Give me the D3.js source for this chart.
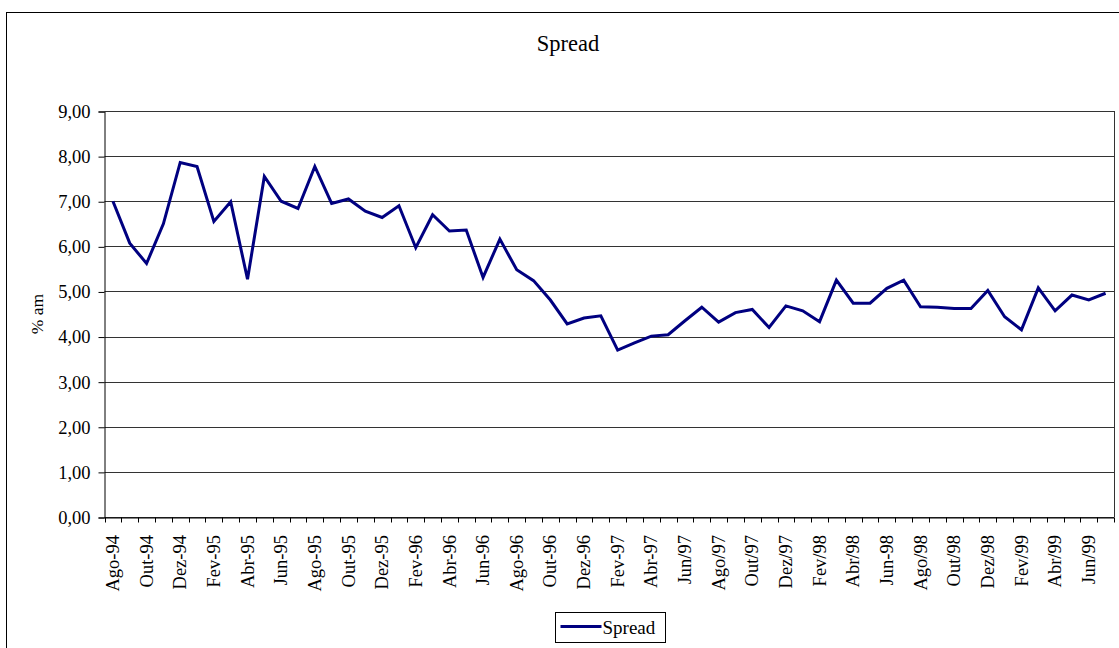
<!DOCTYPE html>
<meta charset="utf-8">
<script type="text/javascript" src="https://d3js.org/d3.v7.min.js"></script>
<style>
body { margin: 0; background: #fff; }
text { font-family: "Liberation Serif", "Times New Roman", serif; fill: #000; }
</style>
<body>
<script type="text/javascript">

// months, Ago-94 .. Jul-99 (only every 2nd one gets a label)
var months = ["Ago-94","Set-94","Out-94","Nov-94","Dez-94","Jan-95","Fev-95","Mar-95","Abr-95","Mai-95",
    "Jun-95","Jul-95","Ago-95","Set-95","Out-95","Nov-95","Dez-95","Jan-96","Fev-96","Mar-96",
    "Abr-96","Mai-96","Jun-96","Jul-96","Ago-96","Set-96","Out-96","Nov-96","Dez-96","Jan-97",
    "Fev-97","Mar-97","Abr-97","Mai-97","Jun/97","Jul/97","Ago/97","Set/97","Out/97","Nov/97",
    "Dez/97","Jan/98","Fev/98","Mar/98","Abr/98","Mai/98","Jun-98","Jul-98","Ago/98","Set/98",
    "Out/98","Nov/98","Dez/98","Jan/99","Fev/99","Mar/99","Abr/99","Mai/99","Jun/99","Jul/99"];

// spread, % am
var spread = [7.00,6.07,5.62,6.50,7.86,7.77,6.55,6.99,5.27,7.55,
    7.00,6.84,7.77,6.95,7.05,6.78,6.64,6.90,5.97,6.70,
    6.34,6.36,5.31,6.16,5.48,5.24,4.81,4.28,4.41,4.46,
    3.70,3.86,4.01,4.04,4.35,4.65,4.32,4.53,4.60,4.20,
    4.68,4.57,4.33,5.25,4.74,4.74,5.07,5.25,4.66,4.65,
    4.62,4.62,5.02,4.44,4.15,5.08,4.57,4.92,4.81,4.96];

var yTicks = [0,1,2,3,4,5,6,7,8,9];

var width = 1119, height = 648,
    plot = {left: 104.5, right: 1114, top: 111, bottom: 517},
    lineColor = "#000080";

var svg = d3.select("body").append("svg")
    .attr("width", width)
    .attr("height", height);

// outer chart frame (runs off the right and bottom)
svg.append("rect")
    .attr("x", 6.5).attr("y", 12.5)
    .attr("width", 1130).attr("height", 660)
    .attr("fill", "none").attr("stroke", "#000").attr("stroke-width", 1);

var x = d3.scaleBand().domain(months).range([plot.left, plot.right]);
var y = d3.scaleLinear().domain([0, 9]).range([plot.bottom, plot.top]);

var fmt = function(d) { return d3.format(".2f")(d).replace(".", ","); };

// gridlines
svg.append("g").selectAll("line").data(yTicks).enter().append("line")
    .attr("x1", plot.left).attr("x2", plot.right)
    .attr("y1", function(d) { return Math.round(y(d)) + 0.5; })
    .attr("y2", function(d) { return Math.round(y(d)) + 0.5; })
    .attr("stroke", "#333").attr("stroke-width", 1);

// right edge of plot area
svg.append("line")
    .attr("x1", plot.right + 0.5).attr("x2", plot.right + 0.5)
    .attr("y1", plot.top).attr("y2", plot.bottom)
    .attr("stroke", "#333");

// y axis
var yAxis = svg.append("g")
    .attr("transform", "translate(" + plot.left + ",0.5)")
    .call(d3.axisLeft(y).tickValues(yTicks).tickFormat(fmt).tickSize(6).tickPadding(8));
yAxis.select(".domain").attr("stroke", "#000");
yAxis.selectAll("text")
    .attr("font-family", "Liberation Serif").attr("font-size", 18.5).attr("fill", "#000");

// x axis: ticks at category boundaries, labels on every 2nd month
var xAxis = svg.append("g")
    .attr("transform", "translate(0," + (Math.round(plot.bottom) + 0.5) + ")")
    .call(d3.axisBottom(x).tickSize(0).tickFormat(function(d, i) { return i % 2 == 0 ? d : ""; }));
xAxis.select(".domain").attr("stroke", "#000");
xAxis.selectAll("text")
    .attr("font-family", "Liberation Serif").attr("font-size", 18.5).attr("fill", "#000")
    .attr("text-anchor", "end")
    .attr("transform", "rotate(-90)")
    .attr("x", -17.5).attr("y", 0).attr("dy", "0.33em");

xAxis.selectAll(".bound").data(d3.range(months.length + 1)).enter().append("line")
    .attr("class", "bound")
    .attr("x1", function(i) { return Math.round(plot.left + i * x.step()) + 0.5; })
    .attr("x2", function(i) { return Math.round(plot.left + i * x.step()) + 0.5; })
    .attr("y1", 0).attr("y2", 5)
    .attr("stroke", "#000");

// the series
var line = d3.line()
    .x(function(d, i) { return x(months[i]) + x.bandwidth() / 2; })
    .y(function(d) { return y(d); });

svg.append("path")
    .datum(spread)
    .attr("d", line)
    .attr("fill", "none")
    .attr("stroke", lineColor)
    .attr("stroke-width", 3)
    .attr("stroke-linejoin", "miter");

// title and axis title
svg.append("text")
    .attr("x", 568).attr("y", 51)
    .attr("text-anchor", "middle").attr("font-size", 22.5)
    .text("Spread");

svg.append("text")
    .attr("transform", "translate(43," + ((plot.top + plot.bottom) / 2) + ") rotate(-90)")
    .attr("text-anchor", "middle").attr("font-size", 17.5)
    .text("% am");

// legend
var legend = svg.append("g").attr("transform", "translate(555.5,612.5)");
legend.append("rect")
    .attr("width", 110).attr("height", 30)
    .attr("fill", "#fff").attr("stroke", "#000");
legend.append("line")
    .attr("x1", 5).attr("x2", 46).attr("y1", 14).attr("y2", 14)
    .attr("stroke", lineColor).attr("stroke-width", 3);
legend.append("text")
    .attr("x", 47).attr("y", 21.5).attr("font-size", 19)
    .text("Spread");

</script>
</body>
